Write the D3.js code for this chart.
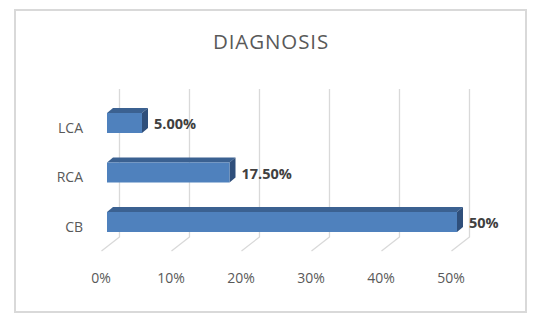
<!DOCTYPE html>
<html><head><meta charset="utf-8">
<script src="https://cdn.jsdelivr.net/npm/d3@7"></script>
<style>html,body{margin:0;padding:0;background:#fff;}svg{display:block;}</style>
</head><body>
<svg id="c" width="541" height="327"></svg>
<script>
const categories = ["LCA", "RCA", "CB"];
const values = [5, 17.5, 50];
const valueLabels = ["5.00%", "17.50%", "50%"];
const tickValues = [0, 10, 20, 30, 40, 50];
const title = "DIAGNOSIS";

const svg = d3.select("#c");
const font = "'Open Sans', sans-serif";

// chart border
svg.append("rect").attr("x", 15).attr("y", 10).attr("width", 511).attr("height", 302)
  .attr("fill", "#fff").attr("stroke", "#d9d9d9").attr("stroke-width", 2);

svg.append("text").attr("x", 271).attr("y", 48.5).attr("text-anchor", "middle")
  .attr("font-family", font).attr("font-size", 20.5).attr("fill", "#595959")
  .attr("letter-spacing", 0.9).text(title);

const x = d3.scaleLinear().domain([0, 50]).range([119, 469]);
const y = d3.scalePoint().domain(categories).range([123, 222]);
const floorDx = -18, floorDy = 14;
const wallTop = 89, wallBottom = 237;

// gridlines (back wall verticals + floor diagonals)
const g = svg.append("g").attr("stroke", "#d9d9d9").attr("stroke-width", 1.3).attr("fill", "none");
tickValues.forEach(t => {
  const xx = Math.round(x(t)) + 0.5;
  g.append("path").attr("d", `M${xx},${wallTop}L${xx},${wallBottom}L${xx + floorDx},${wallBottom + floorDy}`);
});

// tick labels
svg.append("g").selectAll("text").data(tickValues).join("text")
  .attr("x", d => x(d) + floorDx).attr("y", 283).attr("text-anchor", "middle")
  .attr("font-family", font).attr("font-size", 14).attr("fill", "#595959")
  .text(d => d + "%");

// category labels
svg.append("g").selectAll("text").data(categories).join("text")
  .attr("x", 83).attr("y", d => y(d) + 9.5).attr("text-anchor", "end")
  .attr("font-family", font).attr("font-size", 14).attr("fill", "#595959")
  .text(d => d);

// 3D bars
const bh = 20, fx = -12, dx = 6, dy = -5;
const bars = svg.append("g");
categories.forEach((c, i) => {
  const x0 = x(0) + fx, x1 = x(values[i]) + fx;
  const y0 = y(c) - bh / 2, y1 = y(c) + bh / 2;
  // top face
  bars.append("path").attr("d", `M${x0},${y0}L${x0 + dx},${y0 + dy}L${x1 + dx},${y0 + dy}L${x1},${y0}Z`)
    .attr("fill", "#3b6191");
  // side face
  bars.append("path").attr("d", `M${x1},${y0}L${x1 + dx},${y0 + dy}L${x1 + dx},${y1 + dy}L${x1},${y1}Z`)
    .attr("fill", "#2f4f7b");
  // front face
  bars.append("rect").attr("x", x0).attr("y", y0).attr("width", x1 - x0).attr("height", bh)
    .attr("fill", "#4f81bd");
  // value label
  svg.append("text").attr("x", x1 + dx + 6).attr("y", y(c) + 6)
    .attr("font-family", font).attr("font-size", 14.5).attr("font-weight", "bold").attr("fill", "#404040")
    .text(valueLabels[i]);
});
</script>
</body></html>
